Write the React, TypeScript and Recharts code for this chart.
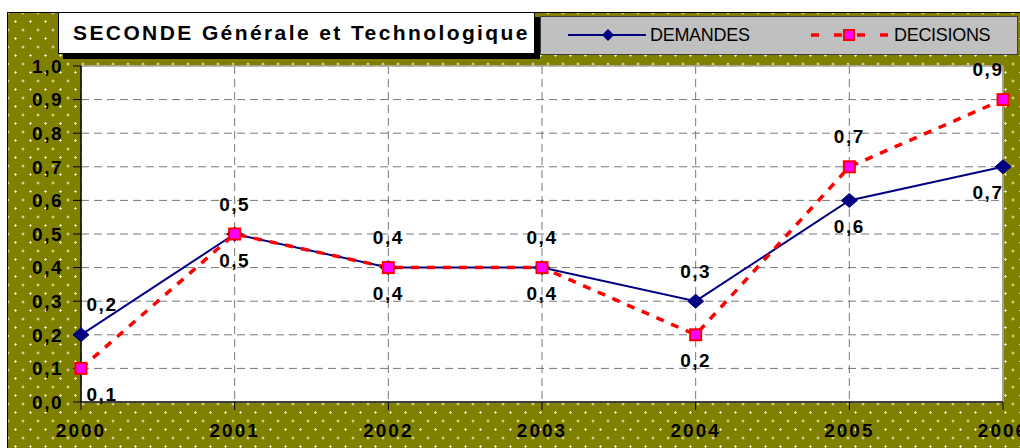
import React from 'react'
import { CartesianGrid, LabelList, Line, LineChart, ReferenceLine, XAxis, YAxis } from 'recharts'

const years = ['2000', '2001', '2002', '2003', '2004', '2005', '2006']
const demandes = [0.2, 0.5, 0.4, 0.4, 0.3, 0.6, 0.7]
const decisions = [0.1, 0.5, 0.4, 0.4, 0.2, 0.7, 0.9]
const yTicks = [0, 0.1, 0.2, 0.3, 0.4, 0.5, 0.6, 0.7, 0.8, 0.9, 1]

const data = years.map((year, i) => ({ year, demandes: demandes[i], decisions: decisions[i] }))

const FONT = '"Liberation Sans", Arial, sans-serif'
const fmt = (v: number) => v.toFixed(1).replace('.', ',')

// labels go above the point when the series is the higher one, below otherwise
const pointLabel = (own: number[], other: number[], topWhenEqual: boolean) => (props: any) => {
  const { x, y, index } = props
  const v = own[index]
  const o = other[index]
  const top = v > o || (v === o && topWhenEqual)
  let dx = 0
  if (index === 0) dx = 21
  if (index === own.length - 1) dx = -15
  return (
    <text
      key={`lbl-${index}`}
      x={x + dx}
      y={top ? y - 30 : y + 26}
      textAnchor="middle"
      dominantBaseline="central"
      fontFamily={FONT}
      fontSize={19}
      fontWeight="bold"
      letterSpacing={1.5}
      fill="#000"
    >
      {fmt(v)}
    </text>
  )
}

const Diamond = (props: any) => {
  const { cx, cy, index } = props
  if (cx == null || cy == null) return <g key={`dm-${index}`} />
  return (
    <path
      key={`dm-${index}`}
      d={`M${cx - 8},${cy} L${cx},${cy - 7} L${cx + 8},${cy} L${cx},${cy + 7} Z`}
      fill="#000080"
      stroke="#000080"
    />
  )
}

const Square = (props: any) => {
  const { cx, cy, index } = props
  if (cx == null || cy == null) return <g key={`sq-${index}`} />
  return <rect key={`sq-${index}`} x={cx - 5.5} y={cy - 5.5} width={11} height={11} fill="#ff00ff" stroke="#ff0000" strokeWidth={2} />
}

const dotted = {
  backgroundColor: '#808000',
  backgroundImage:
    'radial-gradient(circle, #f4f4d8 0.9px, transparent 1.4px), radial-gradient(circle, #f4f4d8 0.9px, transparent 1.4px)',
  backgroundSize: '15px 17px',
  backgroundPosition: '0px 0px, 7.5px 8.5px',
}

export default function App() {
  return (
    <div style={{ position: 'absolute', left: 0, top: 0, width: 1020, height: 448, overflow: 'hidden', background: '#fff' }}>
      <div
        style={{
          position: 'absolute',
          left: 7,
          top: 12,
          right: 0,
          bottom: 0,
          borderLeft: '1px solid #000',
          borderTop: '1px solid #000',
          ...dotted,
        }}
      />

      <div style={{ position: 'absolute', left: 0, top: 0 }}>
        <LineChart width={1020} height={448} data={data} margin={{ top: 66, right: 17, left: 7, bottom: 6 }}>
          <CartesianGrid stroke="#777" strokeDasharray="8 5" fill="#fff" />
          <ReferenceLine y={1} stroke="#b0b0b0" strokeWidth={1.5} />
          <ReferenceLine x="2006" stroke="#a0a0a0" strokeWidth={2} />
          <XAxis
            dataKey="year"
            height={40}
            axisLine={{ stroke: '#404040', strokeWidth: 2 }}
            tickLine={{ stroke: '#000' }}
            tickSize={8}
            tickMargin={14}
            interval={0}
            tick={{ fontFamily: FONT, fontSize: 19, fontWeight: 'bold', fill: '#000', letterSpacing: 2 }}
          />
          <YAxis
            domain={[0, 1]}
            ticks={yTicks}
            width={74}
            tickFormatter={fmt}
            axisLine={{ stroke: '#000', strokeWidth: 1.5 }}
            tickLine={{ stroke: '#000' }}
            tickSize={8}
            tickMargin={10}
            tick={{ fontFamily: FONT, fontSize: 19, fontWeight: 'bold', fill: '#000', letterSpacing: 1.5 }}
          />
          <Line
            dataKey="demandes"
            stroke="#000080"
            strokeWidth={2}
            dot={Diamond}
            activeDot={false}
            isAnimationActive={false}
          >
            <LabelList dataKey="demandes" content={pointLabel(demandes, decisions, false)} />
          </Line>
          <Line
            dataKey="decisions"
            stroke="#ff0000"
            strokeWidth={3.5}
            strokeDasharray="8 8"
            dot={Square}
            activeDot={false}
            isAnimationActive={false}
          >
            <LabelList dataKey="decisions" content={pointLabel(decisions, demandes, true)} />
          </Line>
        </LineChart>
      </div>

      <div
        style={{
          position: 'absolute',
          left: 58,
          top: 12,
          width: 461,
          height: 40,
          background: '#fff',
          border: '1px solid #000',
          boxShadow: '5px 5px 0 #000',
          fontFamily: FONT,
          fontSize: 21,
          fontWeight: 'bold',
          letterSpacing: 2.4,
          lineHeight: '40px',
          paddingLeft: 14,
          boxSizing: 'content-box',
          whiteSpace: 'nowrap',
        }}
      >
        SECONDE Générale et Technologique
      </div>

      <div
        style={{
          position: 'absolute',
          left: 540,
          top: 16,
          width: 476,
          height: 37,
          background: '#c0c0c0',
          border: '1px solid #404040',
        }}
      >
        <svg width={476} height={37} style={{ display: 'block' }}>
          <line x1={27} y1={18} x2={105} y2={18} stroke="#000080" strokeWidth={2} />
          <path d="M61,18 L67,12 L73,18 L67,24 Z" fill="#000080" />
          <text x={109} y={18} dominantBaseline="central" fontFamily={FONT} fontSize={18} fill="#000" letterSpacing={-0.3}>
            DEMANDES
          </text>
          <line x1={270} y1={18} x2={348} y2={18} stroke="#ff0000" strokeWidth={3.5} strokeDasharray="8 15" />
          <rect x={303} y={13} width={10} height={10} fill="#ff00ff" stroke="#ff0000" strokeWidth={2} />
          <text x={353} y={18} dominantBaseline="central" fontFamily={FONT} fontSize={18} fill="#000" letterSpacing={-0.3}>
            DECISIONS
          </text>
        </svg>
      </div>
    </div>
  )
}
